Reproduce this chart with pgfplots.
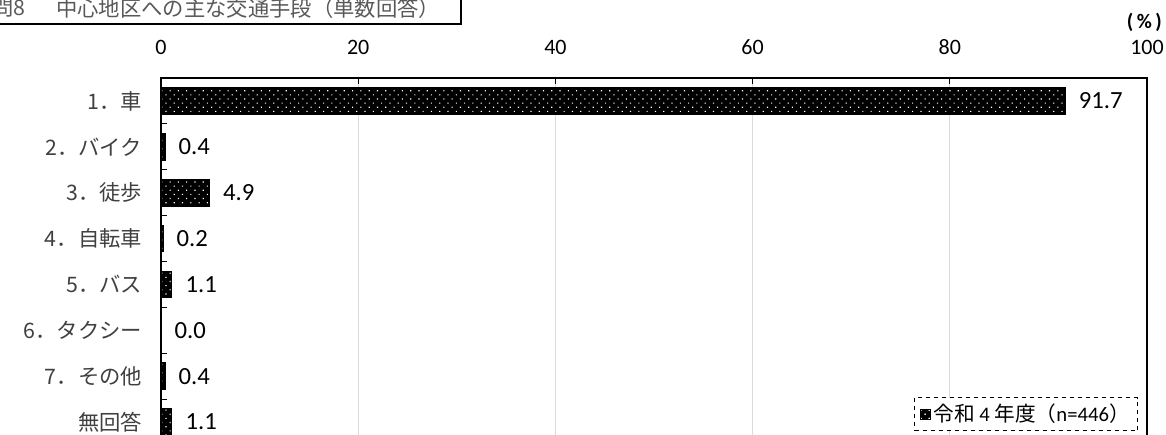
\documentclass[border=0pt]{standalone}
\usepackage{fontspec}
\setmainfont{Carlito}
\newfontfamily\jp{Noto Sans CJK JP}
\usepackage{pgfplots}
\pgfplotsset{compat=1.18}
\usetikzlibrary{patterns.meta}
\definecolor{labelgray}{HTML}{404040}
\definecolor{titlegray}{HTML}{595959}
\definecolor{gridgray}{HTML}{D9D9D9}
\tikzset{dotfill/.style={fill=black,
  postaction={pattern={Dots[angle=45,distance=4.4pt,radius=0.6pt]}, pattern color=white}}}

\begin{document}
\begin{tikzpicture}
\path[use as bounding box] (0,0) rectangle (874.5pt,-326.25pt);
\clip (0,0) rectangle (874.5pt,-326.25pt);

% title box
\draw[line width=0.8pt] (-10pt,10pt) rectangle (345.75pt,-18pt);
\node[anchor=east, inner sep=0pt, text=titlegray, font={\jp\fontsize{16}{18}\selectfont}] at (19.5pt,-6pt) {問8};
\node[anchor=west, inner sep=0pt, text=titlegray, font={\jp\fontsize{16}{18}\selectfont}] at (42pt,-6pt) {中心地区への主な交通手段（単数回答）};

% unit
\node[anchor=east, inner sep=0pt, font={\bfseries\fontsize{15.5}{18}\selectfont}] at (871.5pt,-16.5pt) {(\,\%\,)};

\begin{axis}[
  at={(120.75pt,-58.5pt)}, anchor=north west,
  scale only axis, width=739.5pt, height=275.2pt,
  xmin=0, xmax=100, ymin=-0.5, ymax=7.5, y dir=reverse,
  xtick={0,20,...,100},
  xtick pos=right, xticklabel pos=right,
  xticklabel style={anchor=base, inner sep=0pt, yshift=18pt, font={\fontsize{16.5}{18}\selectfont}},
  /pgf/number format/assume math mode=true,
  ytick={0.5,1.5,...,6.5}, yticklabels={},
  ytick pos=left,
  extra y ticks={0,1,2,3,4,5,6,7},
  extra y tick labels={{1．車},{2．バイク},{3．徒歩},{4．自転車},{5．バス},{6．タクシー},{7．その他},{無回答}},
  extra y tick style={major tick length=0pt,
    yticklabel style={anchor=east, inner sep=0pt, xshift=-14pt, text=labelgray, font={\jp\fontsize{16}{18}\selectfont}}},
  major tick length=4.5pt,
  tick style={black, line width=0.8pt},
  axis line style={line width=0.9pt},
  xmajorgrids, major grid style={gridgray, line width=0.75pt},
  legend style={at={(axis description cs:0.991,0.038)}, anchor=south east,
    draw=black, dashed, line width=0.6pt, inner xsep=4pt, inner ysep=3pt,
    font={\fontsize{15.5}{18}\selectfont}},
  legend image code/.code={\draw[solid, dotfill, draw=black, line width=0.5pt] (0pt,-3.75pt) rectangle (7.5pt,3.75pt);},
]
\addplot[xbar, draw=black, line width=0.6pt, dotfill, bar width=20pt,
  nodes near coords,
  nodes near coords style={anchor=west, inner sep=0pt, xshift=10pt, text=black,
    font={\fontsize{18.5}{20}\selectfont},
    /pgf/number format/.cd, fixed, fixed zerofill, precision=1, assume math mode=true},
] coordinates {(91.7,0) (0.4,1) (4.9,2) (0.2,3) (1.1,4) (0.0,5) (0.4,6) (1.1,7)};
\addlegendentry{{\jp 令和} 4 {\jp 年度（}n=446{\jp ）}}
\end{axis}
\end{tikzpicture}
\end{document}
